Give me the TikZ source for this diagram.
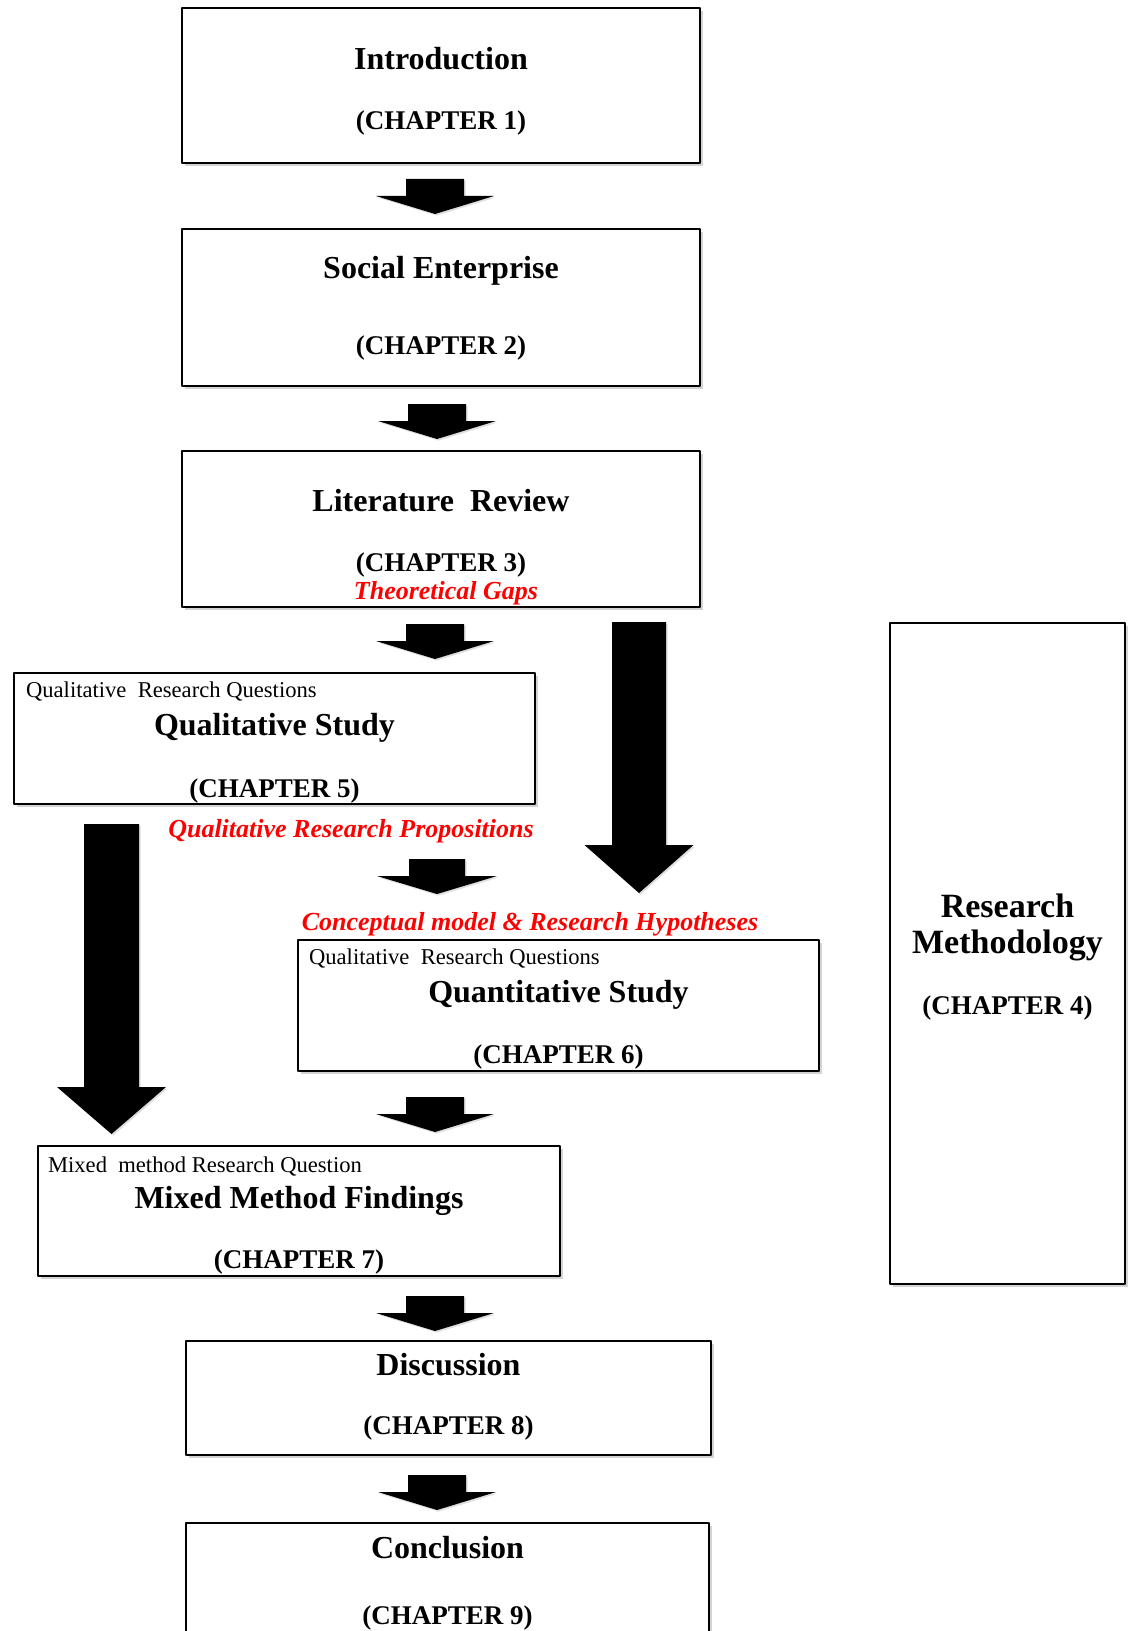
\documentclass[tikz,border=0pt]{standalone}
\usepackage{fontspec}
\setmainfont{Liberation Serif}
\usetikzlibrary{fit,shadows}

\newcommand{\fatarrow}[6]{%
  \fill[arrowfill] (#1-#5,#2) -- (#1-#5,#3) -- (#1-#6,#3) -- (#1,#4)
    -- (#1+#6,#3) -- (#1+#5,#3) -- (#1+#5,#2) -- cycle;}

\begin{document}
\begin{tikzpicture}[line cap=round,line join=round,x=0.5pt,y=-0.5pt,
  box/.style={draw,line width=1pt,inner sep=0pt,fill=white,
    drop shadow={shadow xshift=1.5pt,shadow yshift=-1.5pt,opacity=0.35}},
  ttl/.style={font=\bfseries\fontsize{16}{19}\selectfont,yshift=-1.5pt},
  chap/.style={font=\bfseries\fontsize{13.5}{16}\selectfont,yshift=-1.5pt},
  rq/.style={font=\fontsize{11.3}{13}\selectfont,anchor=west,yshift=-1pt},
  redlbl/.style={text=red,font=\bfseries\itshape\fontsize{13}{15}\selectfont,yshift=-1pt},
  arrowfill/.style={fill=black,
    drop shadow={shadow xshift=0.8pt,shadow yshift=-0.8pt,opacity=0.25}}]
\useasboundingbox (0,0) rectangle (1130,1631);
\clip (0,0) rectangle (1130,1631);

\node[box,fit={(182,8) (700,163)}] (intro) {};
\node[box,fit={(182,229) (700,386)}] (social) {};
\node[box,fit={(182,451) (700,607)}] (litrev) {};
\node[box,fit={(890,623) (1125,1284)}] (method) {};
\node[box,fit={(14,673) (535,804)}] (qual) {};
\node[box,fit={(298,940) (819,1071)}] (quant) {};
\node[box,fit={(38,1146) (560,1276)}] (mixed) {};
\node[box,fit={(186,1341) (711,1455)}] (disc) {};
\node[box,fit={(186,1523) (709,1680)}] (concl) {};

\node[ttl] (introT) at (441,56) {Introduction};
\node[chap] (introC) at (441,120) {(CHAPTER 1)};
\node[ttl] (socialT) at (441,268) {Social Enterprise};
\node[chap] (socialC) at (441,345) {(CHAPTER 2)};
\node[ttl] (litrevT) at (441,498) {Literature\enspace Review};
\node[chap] (litrevC) at (441,562) {(CHAPTER 3)};
\node[redlbl] (gaps) at (446,591) {Theoretical Gaps};

\node[rq] (qualQ) at (19,689) {Qualitative\enspace Research Questions};
\node[ttl] (qualT) at (274.5,725) {Qualitative Study};
\node[chap] (qualC) at (274.5,788) {(CHAPTER 5)};
\node[redlbl] (props) at (351,829) {Qualitative Research Propositions};

\node[redlbl] (hyps) at (530,922) {Conceptual model \& Research Hypotheses};
\node[rq] (quantQ) at (302,956) {Qualitative\enspace Research Questions};
\node[ttl] (quantT) at (558.5,992) {Quantitative Study};
\node[chap] (quantC) at (558.5,1054) {(CHAPTER 6)};

\node[rq] (mixedQ) at (41,1164) {Mixed\enspace method Research Question};
\node[ttl] (mixedT) at (299,1198) {Mixed Method Findings};
\node[chap] (mixedC) at (299,1259) {(CHAPTER 7)};

\node[ttl] (discT) at (448.5,1362) {Discussion};
\node[chap] (discC) at (448.5,1425) {(CHAPTER 8)};
\node[ttl] (conclT) at (447.5,1545) {Conclusion};
\node[chap] (conclC) at (447.5,1615) {(CHAPTER 9)};

\node[font=\bfseries\fontsize{17}{18}\selectfont,align=center,yshift=-1.5pt] (methT) at (1007.5,924) {Research\\Methodology};
\node[chap] (methC) at (1007.5,1005) {(CHAPTER 4)};

\fatarrow{435}{179}{196}{214}{29}{59}
\fatarrow{437}{404}{421}{439}{29}{59}
\fatarrow{435}{624}{641}{659}{29}{59}
\fatarrow{437}{859}{876}{894}{28}{60}
\fatarrow{435}{1097}{1114}{1132}{29}{59}
\fatarrow{435}{1296}{1313}{1331}{29}{59}
\fatarrow{437}{1475}{1492}{1510}{29}{59}
\fatarrow{639}{622}{845}{893}{27}{54.5}
\fatarrow{111.5}{824}{1087}{1134}{27.5}{54.5}
\end{tikzpicture}
\end{document}
